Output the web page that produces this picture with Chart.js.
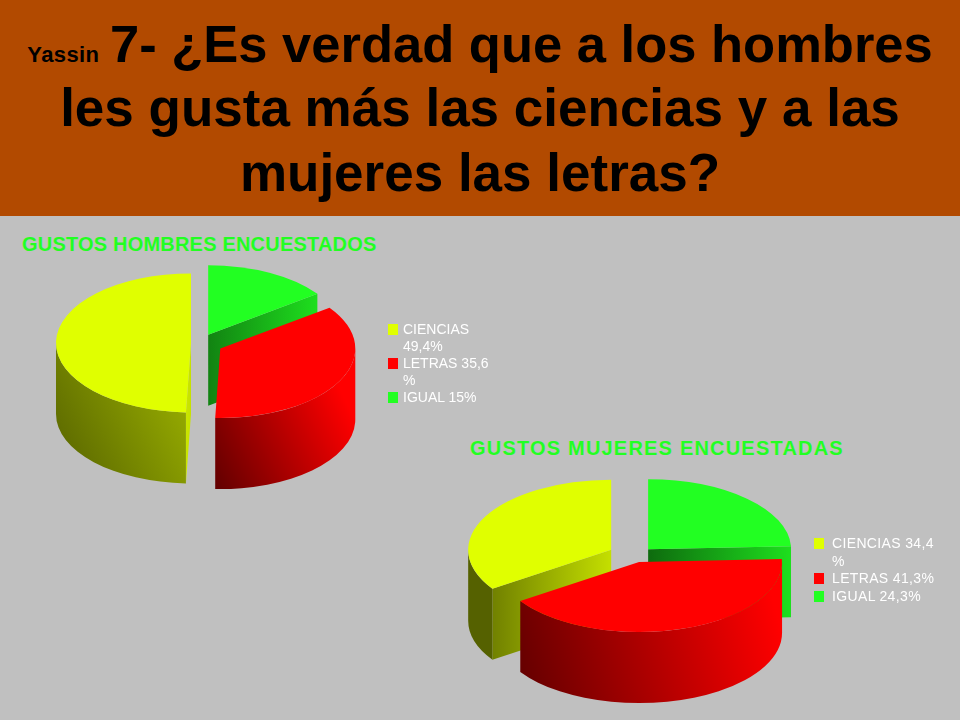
<!DOCTYPE html>
<html lang="es">
<head>
<meta charset="utf-8">
<title>Gustos encuestados</title>
<script src="https://cdn.jsdelivr.net/npm/chart.js@4/dist/chart.umd.min.js"></script>
<style>
  html, body { margin: 0; padding: 0; }
  #page { position: relative; width: 960px; height: 720px; overflow: hidden; background: #c0c0c0; font-family: "Liberation Sans", Arial, sans-serif; }
  #header { position: absolute; left: 0; top: 0; width: 960px; height: 216px; background: #b24a00; color: #000; font-weight: bold; text-align: center; }
  #header div { position: absolute; left: 0; width: 960px; font-size: 53px; line-height: 64px; white-space: nowrap; }
  #header small { font-size: 22px; letter-spacing: .4px; margin-right: -4px; }
  .pieTitle { position: absolute; color: #22ff22; font-weight: bold; font-size: 20px; line-height: 22px; white-space: nowrap; }
  canvas { position: absolute; }
  .legend { position: absolute; color: #fff; font-size: 14px; line-height: 17px; }
  .legend div { position: relative; padding-left: 15px; white-space: pre; }
  .legend i { position: absolute; left: 0; top: 3px; width: 10px; height: 11px; }
  #legendMujeres { line-height: 17.5px; letter-spacing: .35px; }
  #legendMujeres div { padding-left: 18px; }
</style>
</head>
<body>
<div id="page">
  <div id="header">
    <div style="top:12px;font-size:52.5px"><small>Yassin</small> 7- ¿Es verdad que a los hombres</div>
    <div style="top:76px">les gusta más las ciencias y a las</div>
    <div style="top:141px">mujeres las letras?</div>
  </div>
  <div class="pieTitle" style="left:22px;top:233px;letter-spacing:.2px">GUSTOS HOMBRES ENCUESTADOS</div>
  <div class="pieTitle" style="left:470px;top:437px;letter-spacing:1.2px">GUSTOS MUJERES ENCUESTADAS</div>
  <canvas id="hombres" width="400" height="320" style="left:0;top:183px"></canvas>
  <canvas id="mujeres" width="400" height="320" style="left:435px;top:396px"></canvas>
  <div class="legend" id="legendHombres" style="left:388px;top:321px"></div>
  <div class="legend" id="legendMujeres" style="left:814px;top:535px"></div>
</div>
<script>
const categories = ["CIENCIAS", "LETRAS", "IGUAL"];
const colors = ["#e0ff00", "#ff0000", "#22ff22"];

const hombres = [49.4, 35.6, 15];
const mujeres = [34.4, 41.3, 24.3];

const legendHombres = ["CIENCIAS\n49,4%", "LETRAS 35,6\n%", "IGUAL 15%"];
const legendMujeres = ["CIENCIAS 34,4\n%", "LETRAS 41,3%", "IGUAL 24,3%"];

function shade(hex, f) {
  const n = parseInt(hex.slice(1), 16);
  return `rgb(${((n >> 16) & 255) * f},${((n >> 8) & 255) * f},${(n & 255) * f})`;
}

// the pie is squashed and extruded here, angles and radius come from the arc elements
const pie3d = {
  id: "pie3d",
  beforeDatasetsDraw(chart, args, opts) {
    const ctx = chart.ctx;
    const { squash, depth, explode } = opts;
    const slices = chart.getDatasetMeta(0).data.map((el, i) => {
      const { x, y, startAngle: s, endAngle: e, outerRadius: r } = el.getProps(["x", "y", "startAngle", "endAngle", "outerRadius"], true);
      const mid = (s + e) / 2;
      const ox = x + Math.cos(mid) * explode[i];
      const oy = y + Math.sin(mid) * explode[i] * squash;
      return { el, x, y, s, e, r, mid, ox, oy, color: el.options.backgroundColor };
    });
    const pieLeft = slices[0].x - slices[0].r;
    const pieWidth = slices[0].r * 2;

    const sideFace = (sl, a) => {
      const px = sl.ox + Math.cos(a) * sl.r;
      const py = sl.oy + Math.sin(a) * sl.r * squash;
      const width = Math.abs(px - sl.ox);
      const g = ctx.createLinearGradient(Math.min(px, sl.ox), 0, Math.max(px, sl.ox) + 1, 0);
      // a narrow face catches the light, a wide one fades to the left
      g.addColorStop(0, shade(sl.color, 0.42 + 0.5 * (1 - width / sl.r)));
      g.addColorStop(1, shade(sl.color, 0.88));
      ctx.fillStyle = g;
      ctx.beginPath();
      ctx.moveTo(sl.ox, sl.oy);
      ctx.lineTo(px, py);
      ctx.lineTo(px, py + depth);
      ctx.lineTo(sl.ox, sl.oy + depth);
      ctx.closePath();
      ctx.fill();
    };

    const outerWall = (sl) => {
      for (const base of [-2 * Math.PI, 0, 2 * Math.PI]) {
        const lo = Math.max(sl.s, base);
        const hi = Math.min(sl.e, base + Math.PI);
        if (hi <= lo) continue;
        const cosMax = lo <= base ? 1 : Math.max(Math.cos(lo), Math.cos(hi));
        const x0 = sl.ox + Math.min(Math.cos(lo), Math.cos(hi)) * sl.r;
        const x1 = sl.ox + cosMax * sl.r;
        const bottom = sl.oy + sl.r * squash + depth;
        const g = ctx.createLinearGradient(x0, bottom, x1, sl.oy + depth);
        const end = 0.38 + 0.62 * Math.min(1, (x1 - pieLeft) / pieWidth);
        g.addColorStop(0, shade(sl.color, 0.38));
        g.addColorStop(1, shade(sl.color, end));
        ctx.fillStyle = g;
        ctx.beginPath();
        ctx.ellipse(sl.ox, sl.oy, sl.r, sl.r * squash, 0, lo, hi);
        ctx.ellipse(sl.ox, sl.oy + depth, sl.r, sl.r * squash, 0, hi, lo, true);
        ctx.closePath();
        ctx.fill();
      }
    };

    ctx.save();
    [...slices].sort((a, b) => Math.sin(a.mid) - Math.sin(b.mid)).forEach((sl) => {
      if (Math.cos(sl.s) < -1e-6) sideFace(sl, sl.s);
      if (Math.cos(sl.e) > 1e-6) sideFace(sl, sl.e);
      outerWall(sl);
    });
    slices.forEach((sl) => {
      ctx.save();
      ctx.translate(sl.ox, sl.oy);
      ctx.scale(1, squash);
      ctx.translate(-sl.x, -sl.y);
      sl.el.draw(ctx);
      ctx.restore();
    });
    ctx.restore();
    return false;
  },
};

function makePie(id, values, radius, squash, explode) {
  // clockwise from the top the slices run in the opposite order to the legend
  return new Chart(document.getElementById(id), {
    type: "pie",
    data: {
      labels: [...categories].reverse(),
      datasets: [{
        data: [...values].reverse(),
        backgroundColor: [...colors].reverse(),
        borderWidth: 0,
      }],
    },
    options: {
      responsive: false,
      animation: false,
      radius: radius,
      plugins: {
        legend: { display: false },
        tooltip: { enabled: false },
        pie3d: { squash: squash, depth: 71, explode: explode },
      },
    },
    plugins: [pie3d],
  });
}

makePie("hombres", hombres, 135, 0.515, [18, 23, 9]);
makePie("mujeres", mujeres, 143, 0.49, [19, 13, 27]);

function fillLegend(id, labels) {
  const box = document.getElementById(id);
  labels.forEach((text, i) => {
    const row = document.createElement("div");
    const mark = document.createElement("i");
    mark.style.background = colors[i];
    row.appendChild(mark);
    row.appendChild(document.createTextNode(text));
    box.appendChild(row);
  });
}
fillLegend("legendHombres", legendHombres);
fillLegend("legendMujeres", legendMujeres);
</script>
</body>
</html>
